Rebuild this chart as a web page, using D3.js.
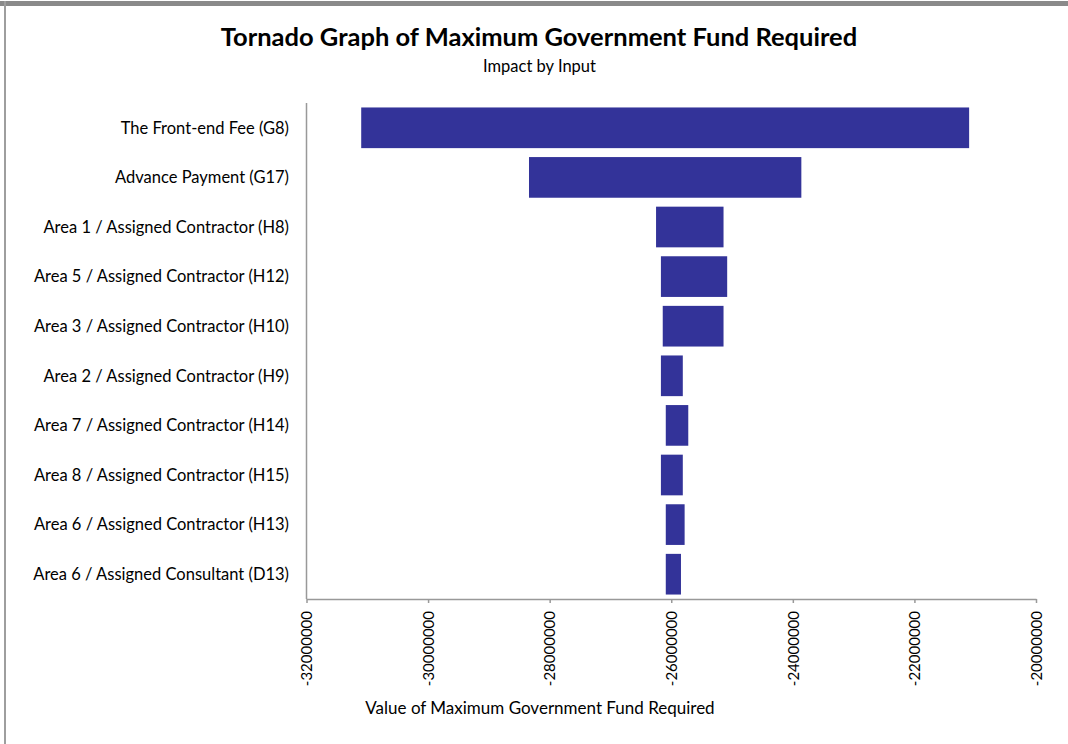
<!DOCTYPE html>
<html>
<head>
<meta charset="utf-8">
<script src="https://cdn.jsdelivr.net/npm/d3@7"></script>
<style>
body{margin:0;background:#fff;}
svg{display:block;font-family:Lato,"Open Sans",sans-serif;}
</style>
</head>
<body>
<svg id="chart"></svg>
<script>
var width=1068, height=744;
var margin={top:103, right:32, bottom:145, left:306.5};

// inputs, top to bottom
var inputs=["The Front-end Fee (G8)","Advance Payment (G17)","Area 1 / Assigned Contractor (H8)",
  "Area 5 / Assigned Contractor (H12)","Area 3 / Assigned Contractor (H10)","Area 2 / Assigned Contractor (H9)",
  "Area 7 / Assigned Contractor (H14)","Area 8 / Assigned Contractor (H15)","Area 6 / Assigned Contractor (H13)",
  "Area 6 / Assigned Consultant (D13)"];
var lowValues=[-31100000,-28340000,-26250000,-26170000,-26140000,-26170000,-26090000,-26170000,-26090000,-26090000];
var highValues=[-21100000,-23860000,-25140000,-25080000,-25140000,-25810000,-25720000,-25810000,-25780000,-25840000];
var xTicks=[-32000000,-30000000,-28000000,-26000000,-24000000,-22000000,-20000000];

var rows=inputs.map(function(name,i){return {name:name, lo:lowValues[i], hi:highValues[i]};});

var svg=d3.select("#chart").attr("width",width).attr("height",height);

// frame
svg.append("rect").attr("x",0).attr("y",1).attr("width",width).attr("height",5).attr("fill","#8a8a8a");
svg.append("line").attr("x1",5).attr("x2",5).attr("y1",1).attr("y2",height)
   .attr("stroke","#9e9e9e").attr("stroke-width",2);

var xScale=d3.scaleLinear().domain([-32000000,-20000000]).range([margin.left,width-margin.right]);
var yScale=d3.scaleBand().domain(inputs).range([margin.top,height-margin.bottom])
             .paddingInner(0.18).paddingOuter(0.09);

// title
svg.append("text").attr("x",539).attr("y",46).attr("text-anchor","middle")
   .attr("font-size",25.5).attr("font-weight","bold").attr("fill","#000")
   .text("Tornado Graph of Maximum Government Fund Required");
svg.append("text").attr("x",539.5).attr("y",72).attr("text-anchor","middle")
   .attr("font-size",16.5).attr("fill","#000").text("Impact by Input");

// bars
svg.selectAll("rect.bar").data(rows).enter().append("rect")
   .attr("class","bar")
   .attr("x",function(d){return xScale(d.lo);})
   .attr("width",function(d){return xScale(d.hi)-xScale(d.lo);})
   .attr("y",function(d){return yScale(d.name);})
   .attr("height",yScale.bandwidth())
   .attr("fill","#333399");

// category labels
svg.selectAll("text.cat").data(rows).enter().append("text")
   .attr("class","cat")
   .attr("x",289)
   .attr("y",function(d){return yScale(d.name)+yScale.bandwidth()/2;})
   .attr("dy","0.35em").attr("text-anchor","end")
   .attr("font-size",16.5).attr("fill","#000")
   .text(function(d){return d.name;});

// vertical axis line
svg.append("line").attr("x1",margin.left).attr("x2",margin.left)
   .attr("y1",margin.top).attr("y2",height-margin.bottom)
   .attr("stroke","#999").attr("stroke-width",1.5);

// x axis
var xAxis=d3.axisBottom(xScale).tickValues(xTicks).tickSize(4).tickSizeOuter(0)
            .tickFormat(function(d){return d.toString();});
var gx=svg.append("g").attr("class","xAxis")
   .attr("transform","translate(0,"+(height-margin.bottom)+")")
   .call(xAxis);
gx.select(".domain").attr("stroke","#999").attr("stroke-width",1.5);
gx.selectAll(".tick line").attr("stroke","#999").attr("stroke-width",1.5);
gx.selectAll(".tick text")
  .attr("font-family","Lato,sans-serif").attr("font-size",15).attr("fill","#000")
  .attr("text-anchor","end").attr("x",0).attr("y",0).attr("dy","0.35em")
  .attr("transform","translate(0,12) rotate(-90)");

svg.append("text").attr("x",540).attr("y",714).attr("text-anchor","middle")
   .attr("font-size",17).attr("fill","#000")
   .text("Value of Maximum Government Fund Required");
</script>
</body>
</html>
